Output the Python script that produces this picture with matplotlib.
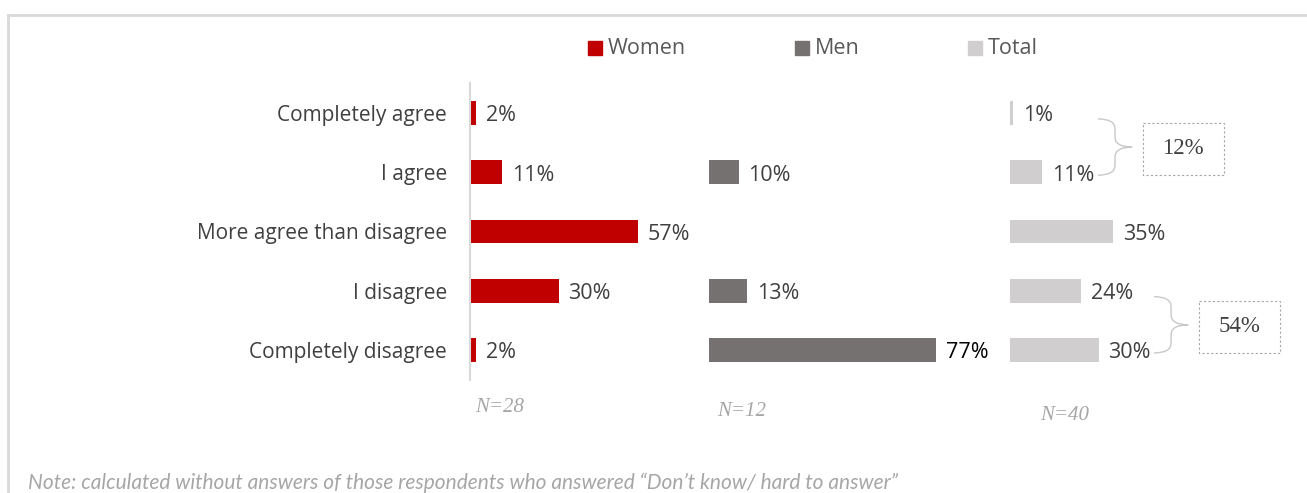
import matplotlib.pyplot as plt
from matplotlib.patches import Rectangle, PathPatch
from matplotlib.path import Path
from matplotlib.lines import Line2D

# Survey answers
categories = ["Completely agree", "I agree", "More agree than disagree",
              "I disagree", "Completely disagree"]
women = [2, 11, 57, 30, 2]
men = [None, 10, None, 13, 77]
total = [1, 11, 35, 24, 30]
groups = ["Women", "Men", "Total"]
sample_sizes = ["N=28", "N=12", "N=40"]
note = "Note: calculated without answers of those respondents who answered \u201cDon\u2019t know/ hard to answer\u201d"

colors = {"Women": "#c00000", "Men": "#767171", "Total": "#d0cece"}
text_color = "#404040"
label_font = "Open Sans"

W, H = 1307, 493
fig = plt.figure(figsize=(W / 100, H / 100), dpi=100)

PX_PER_PCT = 2.95
ROW_PX = 59.25
top_px = 113 - ROW_PX / 2
bottom_px = 350 + ROW_PX / 2


def make_axes(left_px, right_px):
    ax = fig.add_axes([left_px / W, 1 - bottom_px / H,
                       (right_px - left_px) / W, (bottom_px - top_px) / H])
    ax.set_xlim(0, (right_px - left_px) / PX_PER_PCT)
    ax.set_ylim(len(categories) - 0.5, -0.5)
    ax.set_xticks([])
    ax.set_yticks([])
    for s in ax.spines.values():
        s.set_visible(False)
    ax.patch.set_alpha(0)
    return ax


ax_w = make_axes(470, 700)
ax_m = make_axes(709, 1000)
ax_t = make_axes(1010, 1295)

# women panel carries the category labels and the axis line
ax_w.spines["left"].set_visible(True)
ax_w.spines["left"].set_color("#d9d9d9")
ax_w.spines["left"].set_linewidth(1.5)
ax_w.set_yticks(range(len(categories)))
ax_w.set_yticklabels(categories, fontsize=15, color=text_color, family=label_font)
ax_w.tick_params(axis="y", length=0, pad=16.5)

for ax, name, vals in [(ax_w, "Women", women), (ax_m, "Men", men), (ax_t, "Total", total)]:
    for i, v in enumerate(vals):
        if v is None:
            continue
        ax.barh(i, v, height=0.405, color=colors[name])
        lc = "#000000" if v == 77 else text_color
        ax.annotate(f"{v}%", (v, i), xytext=(7, -2), textcoords="offset points",
                    ha="left", va="center", fontsize=15.5, color=lc, family=label_font)


def brace(ax, x0, y0, y1, width, ry):
    ym = (y0 + y1) / 2
    x1 = x0 + width / 2
    xt = x0 + width
    verts = [(x0, y0), (x1, y0), (x1, y0 + ry),
             (x1, ym - ry), (x1, ym), (xt, ym),
             (x1, ym), (x1, ym + ry),
             (x1, y1 - ry), (x1, y1), (x0, y1)]
    codes = [Path.MOVETO, Path.CURVE3, Path.CURVE3,
             Path.LINETO, Path.CURVE3, Path.CURVE3,
             Path.CURVE3, Path.CURVE3,
             Path.LINETO, Path.CURVE3, Path.CURVE3]
    ax.add_patch(PathPatch(Path(verts, codes), fill=False, edgecolor="#c8c8c8",
                           linewidth=1, clip_on=False))


# grouped totals: agree side and disagree side
for a, b in [(0, 1), (3, 4)]:
    x0 = max(total[a], total[b]) + 18.8
    brace(ax_t, x0, a + 0.1, b + 0.05, 11.6, 0.17)
    bx = x0 + 15.3
    ax_t.add_patch(Rectangle((bx, a + 0.17), 27.3, 0.88, fill=False,
                             edgecolor="#a6a6a6", linestyle=(0, (2, 2)),
                             linewidth=0.8, clip_on=False))
    ax_t.text(bx + 27.3 / 2, a + 0.6, f"{total[a] + total[b]}%", ha="center",
              va="center", fontsize=16.5, color=text_color, family="Liberation Serif")

# sample sizes under each panel
for x, y, s in [(500, 408, sample_sizes[0]), (742, 412, sample_sizes[1]),
                (1065, 416, sample_sizes[2])]:
    fig.text(x / W, 1 - y / H, s, ha="center", va="center", fontsize=15,
             style="italic", color="#a6a6a6", family="Liberation Serif")

# legend
for x, name in [(588, "Women"), (795, "Men"), (968, "Total")]:
    fig.add_artist(Rectangle((x / W, 1 - 55 / H), 14 / W, 14 / H,
                             transform=fig.transFigure, color=colors[name]))
    fig.text((x + 20) / W, 1 - 49 / H, name, ha="left", va="center",
             fontsize=15.5, color="#595959", family=label_font)

# outer frame
fig.add_artist(Line2D([8 / W, 1], [1 - 15 / H, 1 - 15 / H], color="#d9d9d9",
                      linewidth=2, transform=fig.transFigure))
fig.add_artist(Line2D([8 / W, 8 / W], [0, 1 - 15 / H], color="#d9d9d9",
                      linewidth=2, transform=fig.transFigure))

fig.text(28 / W, 1 - 483 / H, note, ha="left", va="center", fontsize=15,
         style="italic", color="#a6a6a6", family="Lato")

fig.savefig("out.png", dpi=100)
